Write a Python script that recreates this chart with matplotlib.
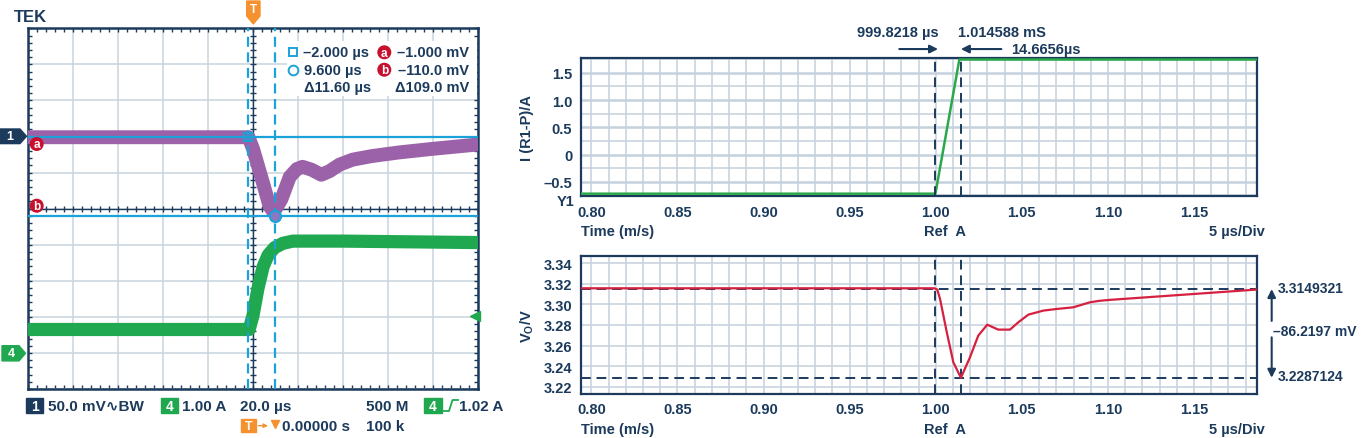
import numpy as np
import matplotlib
matplotlib.use("Agg")
import matplotlib.pyplot as plt
from matplotlib.patches import Polygon, Rectangle, Circle

# ---- scope capture (left) ----
# time in us, ch1 in mV (rel. to its ground), ch4 in A
t_ch1 = [-100, -2, 0, 4.4, 7.4, 9.2, 12.6, 16.3, 19.5, 22, 26, 30.3, 34, 38.4, 44.3, 53, 65, 80, 100]
v_ch1 = [-1, -1, -17, -64, -97, -105, -87, -56, -45, -42, -46, -53, -48, -39, -32, -27, -22, -17, -11]
t_ch4 = [-100, -1.7, 0, 2.2, 4.5, 6.7, 9.6, 13.3, 17.7, 40, 100]
i_ch4 = [0.65, 0.65, 1.04, 1.79, 2.39, 2.71, 2.92, 3.04, 3.10, 3.10, 3.06]
cur_t = [-2.0, 9.6]          # us
cur_v = [-1.0, -110.0]       # mV
trig_level = 1.02            # A
ch1_pos, ch1_scale = 2.0, 50.0   # div, mV/div
ch4_pos, ch4_scale = -4.0, 1.0   # div, A/div

# ---- simulation (right) ----
t_i = [0.79, 0.9998, 1.0137, 1.19]
i_val = [-0.72, -0.72, 1.745, 1.745]
t_v = [0.79, 0.9992, 1.0009, 1.0025, 1.0064, 1.0102, 1.0146, 1.0199, 1.0247, 1.0299,
       1.0363, 1.0431, 1.0480, 1.0538, 1.0625, 1.0703, 1.0799, 1.0896, 1.0950, 1.1017, 1.1868]
v_val = [3.3157, 3.3157, 3.3144, 3.3053, 3.2730, 3.2438, 3.2287, 3.2487, 3.2697, 3.2803,
         3.2755, 3.2755, 3.2827, 3.2901, 3.2940, 3.2956, 3.2972, 3.3021, 3.3035, 3.3045, 3.3145]
cursor_a, cursor_b = 0.9998218, 1.014588
v_hi, v_lo = 3.3149321, 3.2287124

NAVY = "#1b3a5c"
GRID_S = "#c9d4de"
GRID_R = "#c5d1dc"
CYAN = "#1ba3d9"
PURPLE = "#9b62a9"
GREEN_S = "#1fa84f"
GREEN_R = "#2aa84a"
RED = "#c8102e"
RED_R = "#d6203f"
ORANGE = "#f5922f"

plt.rcParams["font.family"] = ["Liberation Sans", "DejaVu Sans"]
plt.rcParams["font.weight"] = "bold"
plt.rcParams["mathtext.fontset"] = "custom"
plt.rcParams["mathtext.rm"] = "Liberation Sans:bold"
plt.rcParams["mathtext.bf"] = "Liberation Sans:bold"

W, H = 1361, 439
fig = plt.figure(figsize=(W / 100, H / 100), dpi=100)


def pax(l, t, r, b):
    return fig.add_axes([l / W, 1 - b / H, (r - l) / W, (b - t) / H])


# ================= scope =================
sc = pax(27.7, 29.3, 478.3, 390.0)
sc.set_xlim(-100, 100)
sc.set_ylim(-5, 5)
sc.set_xticks(np.arange(-100, 101, 20))
sc.set_yticks(np.arange(-5, 6, 1))
sc.set_xticks(np.arange(-100, 101, 4), minor=True)
sc.set_yticks(np.arange(-5, 5.01, 0.2), minor=True)
sc.grid(True, which="major", color=GRID_S, lw=1.1)
sc.tick_params(which="both", direction="in", top=True, right=True,
               labelbottom=False, labelleft=False, color=NAVY, width=1, length=3)
for s in sc.spines.values():
    s.set_color(NAVY)
    s.set_linewidth(1.8)
sc.axhline(0, color=NAVY, lw=1.0, zorder=2)
sc.axvline(0, color=NAVY, lw=1.0, zorder=2)
mt = np.arange(-100, 101, 4)
sc.plot(mt, np.zeros_like(mt), ls="none", marker="|", ms=5, mew=1, color=NAVY, zorder=2)
my = np.arange(-5, 5.01, 0.2)
sc.plot(np.zeros_like(my), my, ls="none", marker="_", ms=5, mew=1, color=NAVY, zorder=2)

sc.plot(t_ch1, ch1_pos + np.array(v_ch1) / ch1_scale, color=PURPLE, lw=10,
        solid_joinstyle="round", solid_capstyle="butt", zorder=3)
sc.plot(t_ch4, ch4_pos + np.array(i_ch4) / ch4_scale, color=GREEN_S, lw=9.5,
        solid_joinstyle="round", solid_capstyle="butt", zorder=3)

ya = ch1_pos + cur_v[0] / ch1_scale
yb = ch1_pos + cur_v[1] / ch1_scale
for tc in cur_t:
    sc.axvline(tc, color=CYAN, lw=1.6, ls=(0, (4.5, 2.5)), zorder=4)
sc.axhline(ya, color=CYAN, lw=1.6, zorder=4)
sc.axhline(yb, color=CYAN, lw=1.6, zorder=4)
sc.plot(cur_t[0], ya, marker="s", ms=6, mfc="none", mec=CYAN, mew=1.5, zorder=5)
sc.plot(cur_t[1], yb, marker="o", ms=8, mfc="#8a78c0", mec=CYAN, mew=1.5, zorder=5)
sc.plot(98.6, ch4_pos + trig_level / ch4_scale, marker="<", ms=7, color=GREEN_S,
        clip_on=False, zorder=5)

# ================= simulation panels =================
ax1 = pax(580.7, 59.3, 1257.4, 197.3)
ax2 = pax(580.7, 257.3, 1257.4, 395.0)
for ax in (ax1, ax2):
    ax.set_xlim(0.7938, 1.1868)
    xt = np.arange(0.80, 1.151, 0.05)
    ax.set_xticks(xt)
    ax.set_xticklabels([f"{v:.2f}" for v in xt])
    ax.set_xticks(np.arange(0.80, 1.181, 0.01), minor=True)
    ax.grid(True, which="both", color=GRID_R, lw=1.1)
    ax.tick_params(which="both", length=0, labelsize=10.5, labelcolor=NAVY, pad=6)
    for s in ax.spines.values():
        s.set_color(NAVY)
        s.set_linewidth(1.6)
    ax.set_axisbelow(True)
    for xc in (cursor_a, cursor_b):
        ax.axvline(xc, color=NAVY, lw=1.4, ls=(0, (5, 3)), zorder=4)

ax1.set_ylim(-0.768, 1.768)
ax1.set_yticks([-0.5, 0, 0.5, 1.0, 1.5])
ax1.set_yticklabels(["\u20130.5", "0", "0.5", "1.0", "1.5"])
ax1.set_yticks(np.arange(-0.75, 1.76, 0.25), minor=True)
ax1.grid(True, which="major", axis="y", color=GRID_R, lw=1.8)
ax1.plot(t_i, i_val, color=GREEN_R, lw=1.8, zorder=3)

ax2.set_ylim(3.2129, 3.3468)
yt = np.arange(3.22, 3.341, 0.02)
ax2.set_yticks(yt)
ax2.set_yticklabels([f"{v:.2f}" for v in yt])
ax2.axhline(v_hi, color=NAVY, lw=1.4, ls=(0, (5, 3)), zorder=4)
ax2.axhline(v_lo, color=NAVY, lw=1.4, ls=(0, (5, 3)), zorder=4)
ax2.plot(t_v, v_val, color=RED_R, lw=1.6, zorder=5)

# cursor arrows / readouts
ap = dict(arrowstyle="-|>", color=NAVY, lw=1.5, mutation_scale=12, shrinkA=0, shrinkB=0)
ax1.annotate("", xy=(cursor_a + 0.0015, 1.067), xytext=(cursor_a - 0.021, 1.067),
             xycoords=("data", "axes fraction"), textcoords=("data", "axes fraction"),
             arrowprops=ap, annotation_clip=False)
ax1.annotate("", xy=(cursor_b, 1.067), xytext=(cursor_b + 0.0235, 1.067),
             xycoords=("data", "axes fraction"), textcoords=("data", "axes fraction"),
             arrowprops=ap, annotation_clip=False)
ax2.annotate("", xy=(1.0211, v_hi), xytext=(1.0211, 3.284),
             xycoords=("axes fraction", "data"), textcoords=("axes fraction", "data"),
             arrowprops=ap, annotation_clip=False)
ax2.annotate("", xy=(1.0211, v_lo), xytext=(1.0211, 3.268),
             xycoords=("axes fraction", "data"), textcoords=("axes fraction", "data"),
             arrowprops=ap, annotation_clip=False)

# ================= overlay (pixel coords) =================
ov = fig.add_axes([0, 0, 1, 1])
ov.set_xlim(0, W)
ov.set_ylim(H, 0)
ov.axis("off")


def t(x, y, s, size=10.5, color=NAVY, ha="left", **kw):
    ov.text(x, y, s, fontsize=size, color=color, ha=ha, va="center", fontweight="bold", **kw)


# scope decorations
t(14, 17.5, "TEK", size=12)
ov.add_patch(Polygon([(246.7, 2), (260, 2), (260, 17), (253.3, 25), (246.7, 17)], color=ORANGE))
t(253.3, 10, "T", size=8.5, color="white", ha="center")
ov.add_patch(Polygon([(0, 130), (20, 130), (26.5, 137.3), (20, 144.6), (0, 144.6)], color=NAVY))
t(10, 137.5, "1", size=9, color="white", ha="center")
ov.add_patch(Polygon([(2, 346.7), (19, 346.7), (25.5, 354.3), (19, 361.9), (2, 361.9)], color=GREEN_S))
t(11, 354.5, "4", size=9, color="white", ha="center")
for cy, lab in ((145, "a"), (206.7, "b")):
    ov.add_patch(Circle((36.7, cy), 6.3, color=RED))
    t(36.7, cy + 0.3, lab, size=8.5, color="white", ha="center")

# readout box
ov.add_patch(Rectangle((287, 41.7), 190, 55, fc="white", ec="none"))
ov.plot(293.3, 53.3, marker="s", ms=6, mfc="none", mec=CYAN, mew=1.4)
ov.plot(293.3, 70.7, marker="o", ms=7, mfc="none", mec=CYAN, mew=1.4)
t(303, 53.3, "\u20132.000 \u00b5s")
t(304, 70.7, "9.600 \u00b5s")
t(304, 88.3, "\u039411.60 \u00b5s")
for cy, lab, txt in ((53.3, "a", "\u20131.000 mV"), (70.7, "b", "\u2013110.0 mV")):
    ov.add_patch(Circle((384.3, cy), 6.3, color=RED))
    t(384.3, cy + 0.3, lab, size=8.5, color="white", ha="center")
    t(469, cy, txt, ha="right")
t(469, 88.3, "\u0394109.0 mV", ha="right")

# scope status bar
r1, r2 = 406.7, 426.7
ov.add_patch(Rectangle((26, 399.3), 17.3, 14.7, color=NAVY))
t(34.7, r1, "1", size=10, color="white", ha="center")
t(48, r1, "50.0 mV\u223fBW", size=11)
ov.add_patch(Rectangle((161, 399.3), 17.3, 14.7, color=GREEN_S))
t(169.7, r1, "4", size=10, color="white", ha="center")
t(182.5, r1, "1.00 A", size=11)
t(240.5, r1, "20.0 \u00b5s", size=11)
t(366, r1, "500 M", size=11)
ov.add_patch(Rectangle((424, 399.3), 17.7, 14.7, color=GREEN_S))
t(432.8, r1, "4", size=10, color="white", ha="center")
ov.plot([444, 449, 452.5, 458], [412, 412, 401, 401], color=GREEN_S, lw=1.3)
t(459, r1, "1.02 A", size=11)
ov.add_patch(Rectangle((240.7, 420), 15.3, 12.7, color=ORANGE))
t(248.3, r2, "T", size=9, color="white", ha="center")
ov.annotate("", xy=(268, r2), xytext=(258.5, r2),
            arrowprops=dict(arrowstyle="-|>", color=ORANGE, lw=1, mutation_scale=6,
                            shrinkA=0, shrinkB=0))
ov.plot(275, r2 - 1.5, marker="v", ms=6, color=ORANGE)
t(282.5, r2, "0.00000 s", size=11)
t(366, r2, "100 k", size=11)

# simulation labels
t(939, 33.3, "999.8218 \u00b5s", ha="right")
t(958, 33.3, "1.014588 mS")
t(1011, 50, "14.6656\u00b5s")
t(574, 201.7, "Y1", ha="right")
for yy in (231.7, 430):
    t(581, yy, "Time (m/s)")
    t(924, yy, "Ref  A")
    t(1265, yy, "5 \u00b5s/Div", ha="right")
t(527, 128.3, "I (R1-P)/A", ha="center", rotation=90)
t(527, 326, "V$_\\mathrm{O}$/V", ha="center", rotation=90)
t(1277.3, 289.3, "3.3149321", size=10)
t(1272.7, 331.7, "\u201386.2197 mV", size=10)
t(1277.3, 376.7, "3.2287124", size=10)

fig.savefig("out.png", dpi=100)
